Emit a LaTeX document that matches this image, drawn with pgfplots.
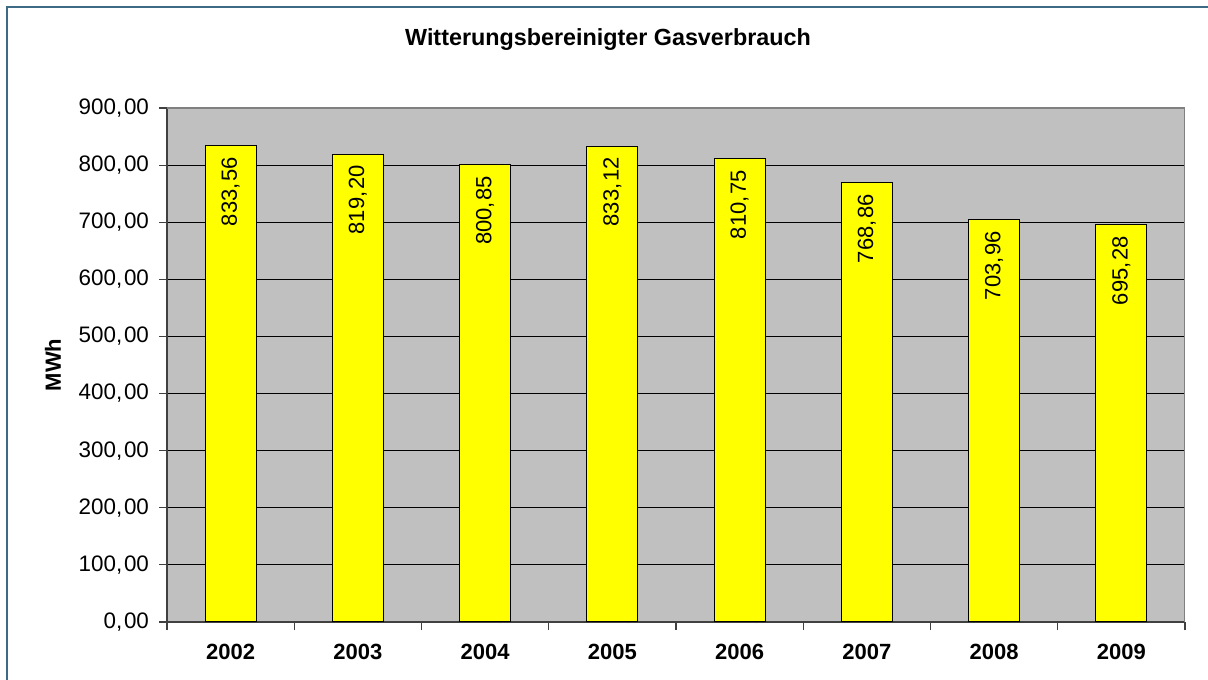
\documentclass[border=0pt]{standalone}
\usepackage{pgfplots}
\pgfplotsset{compat=1.18}
\usepackage{fontspec}
\setmainfont{Liberation Sans}
\definecolor{plotgray}{HTML}{C0C0C0}
\definecolor{frameblue}{HTML}{3F6A85}
\definecolor{baryellow}{HTML}{FFFF00}
\begin{document}
\begin{tikzpicture}
\begin{axis}[
  scale only axis,
  width=763.5pt, height=385.5pt,
  xmin=-0.5, xmax=7.5, ymin=0, ymax=900,
  ytick={0,100,...,900},
  xtick={-0.5,0.5,...,7.5},
  xticklabels={2002,2003,2004,2005,2006,2007,2008,2009},
  x tick label as interval,
  axis lines*=left,
  axis line style={-, draw=black!75, line width=0.9pt},
  axis background/.style={fill=plotgray},
  ymajorgrids,
  major grid style={black, line width=0.7pt},
  tick align=outside,
  major tick length=6pt,
  tick style={black!75, line width=0.8pt},
  /pgf/number format/.cd, use comma, fixed, fixed zerofill, precision=2,
    set decimal separator={,\hspace{0.08em}}, assume math mode=true,
  /pgfplots/.cd,
  yticklabel style={font=\fontsize{16.8}{19}\selectfont, xshift=-4pt},
  xticklabel style={font=\bfseries\fontsize{16.5}{19}\selectfont, yshift=-7pt},
  title={Witterungsbereinigter Gasverbrauch},
  title style={font=\bfseries\fontsize{17.5}{20}\selectfont, at={(axis description cs:0.4332,1.117)}, anchor=center},
  ylabel={MWh},
  ylabel style={font=\bfseries\fontsize{16.5}{19}\selectfont, at={(axis description cs:-0.112,0.5)}, anchor=center},
  nodes near coords,
  nodes near coords style={rotate=90, anchor=east, inner sep=0pt, inner xsep=8pt, font=\fontsize{16.5}{19}\selectfont, black},
]
\addplot[ybar, bar width=0.4, fill=baryellow, draw=black, line width=0.8pt]
  coordinates {(0,833.56) (1,819.20) (2,800.85) (3,833.12) (4,810.75) (5,768.86) (6,703.96) (7,695.28)};
\draw[gray, line width=1pt] (rel axis cs:0,1) -- (rel axis cs:1,1) -- (rel axis cs:1,0);
\end{axis}
\pgfresetboundingbox
\path[use as bounding box] (-125.25pt,-43.5pt) rectangle (780.75pt,466.5pt);
\draw[frameblue, line width=1.5pt] (-120pt,-100pt) rectangle (900pt,461.25pt);
\end{tikzpicture}
\end{document}
